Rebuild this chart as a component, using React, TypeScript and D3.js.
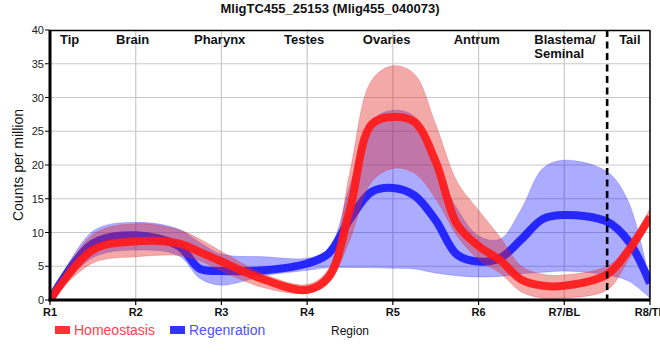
import React from "react";
import * as d3 from "d3";

const title = "MligTC455_25153 (Mlig455_040073)";
const categories = ["R1", "R2", "R3", "R4", "R5", "R6", "R7/BL", "R8/TL"];
const yTicks = [0, 5, 10, 15, 20, 25, 30, 35, 40];
const regionNames = ["Tip", "Brain", "Pharynx", "Testes", "Ovaries", "Antrum", "Blastema/", "Tail"];
const regionPos = [0.117, 0.77, 1.68, 2.73, 3.65, 4.71, 5.65, 6.64];
const dividerPos = 6.5;

// sample positions along the region axis (0 = R1 ... 7 = R8)
const positions = [0, 0.5, 1, 1.5, 1.75, 2, 2.5, 3, 3.25, 3.5, 3.75, 4, 4.25, 4.5, 4.75, 5, 5.25, 5.5, 5.75, 6, 6.5, 6.75, 7];

const homeoMean = [0, 7.4, 8.7, 8.4, 7.1, 5.7, 3.0, 1.5, 3.4, 13.5, 26, 27.1, 26.4, 20.5, 11.2, 8, 5.9, 3.0, 2.1, 2.1, 3.8, 7.4, 12.3];
const homeoUpper = [0, 9.7, 11.3, 10.4, 9.0, 7.2, 3.8, 2.3, 4.6, 19, 32.5, 34.7, 33.5, 26, 17.5, 13.3, 9.3, 5.0, 3.8, 3.7, 5.0, 7.8, 13.6];
const homeoLower = [0, 5.5, 6.4, 6.6, 5.8, 4.3, 1.8, 1.0, 2.5, 9, 17.5, 19.5, 18.8, 15, 9.5, 6, 4.0, 1.2, 0.3, 0.3, 1.5, 6.0, 11.4];

const regenMean = [0, 8.4, 9.6, 8.0, 4.6, 4.3, 4.4, 5.4, 6.9, 12, 16, 16.6, 15.5, 11.8, 6.7, 5.7, 6.2, 9.0, 12.0, 12.6, 11.6, 8.7, 2.5];
const regenUpper = [0, 10.2, 11.5, 10.5, 8.5, 6.8, 6.4, 6.2, 7.5, 17, 26.5, 28.1, 27.2, 20, 13.5, 9.5, 9.0, 13.5, 19.5, 20.7, 19.0, 14.5, 2.5];
const regenLower = [0, 6.3, 7.4, 6.6, 3.2, 2.2, 3.6, 4.4, 4.8, 4.8, 4.8, 4.7, 4.6, 4.0, 3.6, 3.4, 3.5, 3.9, 4.1, 4.3, 3.7, 2.8, 0.3];

const legendItems = ["Homeostasis", "Regenration"];

const FONT = "'Liberation Sans', Arial, sans-serif";

export default function App() {
  const W = 660, H = 360;
  const x = d3.scaleLinear().domain([0, 7]).range([50, 650]);
  const y = d3.scaleLinear().domain([0, 40]).range([300, 30]);
  const curve = d3.curveCatmullRom.alpha(0.5);

  const line = (vals: number[]) =>
    d3.line<number>().x((_, i) => x(positions[i])).y((d) => y(d)).curve(curve)(vals) || "";
  const area = (lo: number[], hi: number[]) =>
    d3
      .area<number>()
      .x((_, i) => x(positions[i]))
      .y0((_, i) => y(lo[i]))
      .y1((_, i) => y(hi[i]))
      .curve(curve)(positions) || "";

  const [x0, x1] = x.range();
  const [yb, yt] = y.range();

  return (
    <svg width={W} height={H} style={{ position: "absolute", left: 0, top: 0, background: "#fff" }} fontFamily={FONT}>
      <defs>
        <clipPath id="plot">
          <rect x={x0} y={yt} width={x1 - x0} height={yb - yt} />
        </clipPath>
      </defs>
      <rect width={W} height={H} fill="#fff" />
      {/* grid */}
      {yTicks.slice(1, -1).map((t) => (
        <line key={"gy" + t} x1={x0} x2={x1} y1={y(t)} y2={y(t)} stroke="#c8c8c8" strokeWidth={1.2} />
      ))}
      {categories.slice(1, -1).map((c, i) => (
        <line key={"gx" + c} x1={x(i + 1)} x2={x(i + 1)} y1={yt} y2={yb} stroke="#c8c8c8" strokeWidth={1.2} />
      ))}

      <g clipPath="url(#plot)">
        <path d={area(regenLower, regenUpper)} fill="rgba(0,0,255,0.33)" stroke="rgba(60,60,255,0.35)" strokeWidth={0.8} />
        <path d={line(regenMean)} fill="none" stroke="#1a1aff" strokeOpacity={0.92} strokeWidth={8} />
        <path d={area(homeoLower, homeoUpper)} fill="rgba(228,40,40,0.4)" stroke="rgba(228,40,40,0.35)" strokeWidth={0.8} />
        <path d={line(homeoMean)} fill="none" stroke="#ff1a1a" strokeOpacity={0.92} strokeWidth={8} />
      </g>

      {/* divider */}
      <line x1={x(dividerPos)} x2={x(dividerPos)} y1={yt} y2={yb} stroke="#000" strokeWidth={2.6} strokeDasharray="7,4.5" />

      {/* frame */}
      <line x1={x0} x2={x1} y1={yt + 0.5} y2={yt + 0.5} stroke="#000" strokeWidth={1.5} />
      <line x1={x1} x2={x1} y1={yt} y2={yb} stroke="#000" strokeWidth={1.5} />
      <line x1={x0} x2={x0} y1={yt} y2={yb + 1.5} stroke="#000" strokeWidth={3} />
      <line x1={x0 - 1.5} x2={x1} y1={yb} y2={yb} stroke="#000" strokeWidth={3} />

      {/* y ticks */}
      {yTicks.map((t) => (
        <g key={"yt" + t}>
          <line x1={x0 - 5} x2={x0} y1={y(t)} y2={y(t)} stroke="#000" strokeWidth={1} />
          <text x={x0 - 6} y={y(t) + 4} textAnchor="end" fontSize={11} fill="#222">
            {t}
          </text>
        </g>
      ))}
      {/* x ticks */}
      {categories.map((c, i) => (
        <g key={"xt" + c}>
          <line x1={x(i)} x2={x(i)} y1={yb} y2={yb + 5} stroke="#000" strokeWidth={1.2} />
          <text x={x(i)} y={yb + 16} textAnchor="middle" fontSize={11} fontWeight="bold" fill="#111">
            {c}
          </text>
        </g>
      ))}

      {/* region labels */}
      {regionNames.map((r, i) => (
        <text key={"rn" + r} x={x(regionPos[i])} y={44} fontSize={13} fontWeight="bold" fill="#111">
          {r}
        </text>
      ))}
      <text x={x(regionPos[6])} y={58} fontSize={13} fontWeight="bold" fill="#111">
        Seminal
      </text>

      {/* title */}
      <text x={330} y={13} textAnchor="middle" fontSize={13} fontWeight="bold" fill="#111">
        {title}
      </text>

      {/* axis labels */}
      <text transform={`translate(23,${(yt + yb) / 2}) rotate(-90)`} textAnchor="middle" fontSize={14} fill="#111">
        Counts per million
      </text>
      <text x={(x0 + x1) / 2} y={335} textAnchor="middle" fontSize={12} fill="#111">
        Region
      </text>

      {/* legend */}
      <rect x={55} y={326} width={15} height={8} fill="#ff3333" />
      <text x={74} y={335} fontSize={14} fill="#ff4050">
        {legendItems[0]}
      </text>
      <rect x={170} y={326} width={15} height={8} fill="#3333ff" />
      <text x={189} y={335} fontSize={14} fill="#5050ff">
        {legendItems[1]}
      </text>
    </svg>
  );
}
